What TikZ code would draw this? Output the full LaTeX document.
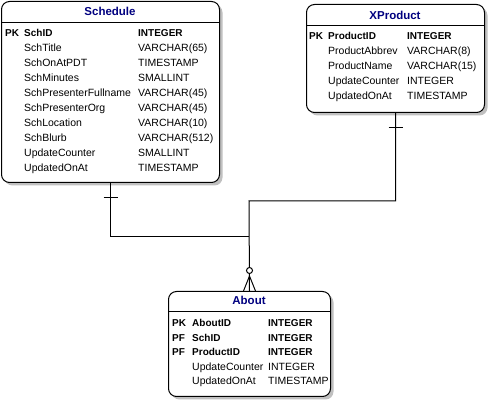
\documentclass[tikz,border=0pt]{standalone}
\usepackage{fontspec}
\setmainfont{Liberation Sans}
\usetikzlibrary{shadows}
\definecolor{ttl}{RGB}{0,0,128}
\definecolor{shd}{RGB}{192,192,192}
\tikzset{
  tbl/.style={draw=black, line width=1pt, rounded corners=8pt, fill=white, inner sep=0pt, anchor=north west,
    drop shadow={shadow xshift=3pt, shadow yshift=-3pt, fill=shd, opacity=1}},
  sep/.style={line width=1pt},
  conn/.style={line width=1pt},
  txt/.style={inner sep=0pt, anchor=base west, font=\fontsize{10.5}{12}\selectfont},
  btxt/.style={inner sep=0pt, anchor=base west, font=\fontsize{10}{12}\selectfont\bfseries},
  title/.style={inner sep=0pt, anchor=base, text=ttl, font=\fontsize{11.5}{13}\selectfont\bfseries},
}
\begin{document}
\begin{tikzpicture}[x=1pt, y=-1pt]
\useasboundingbox[fill=white] (0,0) rectangle (488,403);

% Schedule
\node[tbl, minimum width=218pt, minimum height=181pt] (sch) at (1,1) {};
\draw[sep] (1,22.5) -- (219,22.5);
\node[title] (scht) at (110,16) {Schedule};
\node[btxt] (s1k) at (5,37) {PK};
\node[btxt] (s1n) at (24,37) {SchID};
\node[btxt] (s1t) at (138,37) {INTEGER};
\foreach \i/\n/\t in {2/SchTitle/VARCHAR(65), 3/SchOnAtPDT/TIMESTAMP, 4/SchMinutes/SMALLINT,
  5/SchPresenterFullname/VARCHAR(45), 6/SchPresenterOrg/VARCHAR(45), 7/SchLocation/VARCHAR(10),
  8/SchBlurb/VARCHAR(512), 9/UpdateCounter/SMALLINT, 10/UpdatedOnAt/TIMESTAMP}{
  \node[txt] (s\i n) at (24,{37+15*(\i-1)}) {\n};
  \node[txt] (s\i t) at (138,{37+15*(\i-1)}) {\t};
}

% XProduct
\node[tbl, minimum width=178pt, minimum height=108pt] (xp) at (306,4) {};
\draw[sep] (306,26) -- (484,26);
\node[title] (xpt) at (395,20) {XProduct};
\node[btxt] (x1k) at (309,40) {PK};
\node[btxt] (x1n) at (328,40) {ProductID};
\node[btxt] (x1t) at (407,40) {INTEGER};
\foreach \i/\n/\t in {2/ProductAbbrev/VARCHAR(8), 3/ProductName/VARCHAR(15),
  4/UpdateCounter/INTEGER, 5/UpdatedOnAt/TIMESTAMP}{
  \node[txt] (x\i n) at (328,{40+15*(\i-1)}) {\n};
  \node[txt] (x\i t) at (407,{40+15*(\i-1)}) {\t};
}

% About
\node[tbl, minimum width=162pt, minimum height=105pt] (ab) at (168,291) {};
\draw[sep] (168,312) -- (330,312);
\node[title] (abt) at (249,305) {About};
\node[btxt] (a1k) at (172,327) {PK};
\node[btxt] (a1n) at (192,327) {AboutID};
\node[btxt] (a1t) at (268,327) {INTEGER};
\node[btxt] (a2k) at (172,341.5) {PF};
\node[btxt] (a2n) at (192,341.5) {SchID};
\node[btxt] (a2t) at (268,341.5) {INTEGER};
\node[btxt] (a3k) at (172,356) {PF};
\node[btxt] (a3n) at (192,356) {ProductID};
\node[btxt] (a3t) at (268,356) {INTEGER};
\node[txt] (a4n) at (192,370.5) {UpdateCounter};
\node[txt] (a4t) at (268,370.5) {INTEGER};
\node[txt] (a5n) at (192,385) {UpdatedOnAt};
\node[txt] (a5t) at (268,385) {TIMESTAMP};

% connectors
\coordinate (j1) at (249,201);
\coordinate (j2) at (249,237);
\draw[conn] (sch.south) |- (j2);
\draw[conn] (xp.south) |- (j1) -- (ab.north);
% one marks
\draw[conn] ([xshift=-7pt, yshift=-15pt]sch.south) -- ([xshift=7pt, yshift=-15pt]sch.south);
\draw[conn] ([xshift=-7pt, yshift=-15pt]xp.south) -- ([xshift=7pt, yshift=-15pt]xp.south);
% zero-or-many
\draw[conn, fill=white] ([yshift=20.5pt]ab.north) circle (3pt);
\coordinate (apex) at ([yshift=15pt]ab.north);
\draw[conn] ([xshift=-6pt]ab.north) -- (apex) -- ([xshift=6pt]ab.north);
\end{tikzpicture}
\end{document}
